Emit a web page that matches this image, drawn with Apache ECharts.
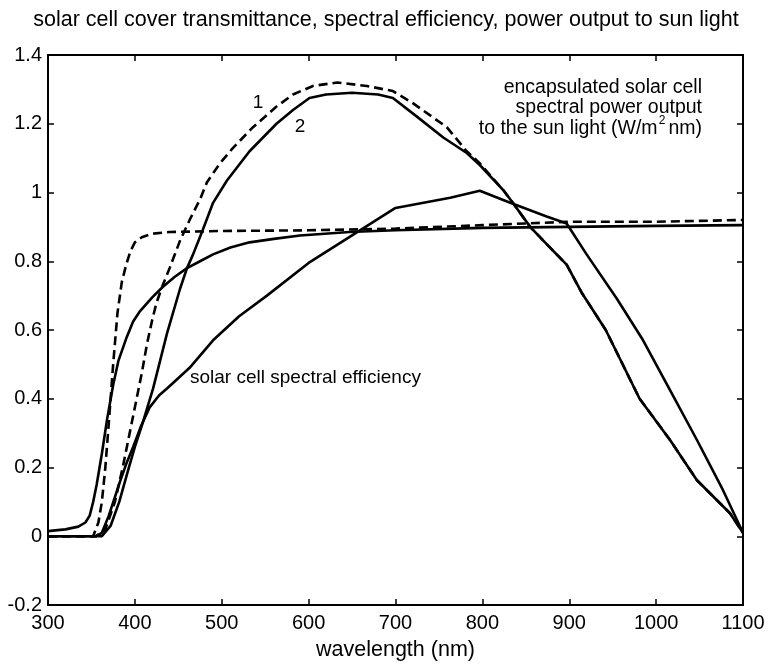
<!DOCTYPE html>
<html>
<head>
<meta charset="utf-8">
<script src="https://cdn.jsdelivr.net/npm/echarts@6/dist/echarts.min.js"></script>
<style>
html,body{margin:0;padding:0;background:#fff;}
#chart{width:772px;height:667px;}
</style>
</head>
<body>
<div id="chart"></div>
<script>
// ---- data (wavelength in nm, values) ----
var xTicks = [300, 400, 500, 600, 700, 800, 900, 1000, 1100];
var yTicks = [-0.2, 0, 0.2, 0.4, 0.6, 0.8, 1, 1.2, 1.4];

// cover transmittance, dashed (cover 1)
var wlTrans1 = [300, 352, 358, 362, 366, 370, 375, 380, 385, 390, 395, 400, 408, 420, 440, 500, 600, 700, 800, 900, 1000, 1100];
var trans1   = [0, 0, 0.04, 0.1, 0.2, 0.33, 0.5, 0.65, 0.74, 0.79, 0.83, 0.855, 0.87, 0.88, 0.885, 0.888, 0.89, 0.895, 0.905, 0.915, 0.915, 0.92];

// cover transmittance, solid (cover 2)
var wlTrans2 = [300, 320, 335, 343, 348, 352, 356, 362, 368, 375, 381, 390, 398, 406, 420, 432, 446, 460, 475, 490, 510, 532, 560, 590, 647, 700, 800, 900, 1000, 1100];
var trans2   = [0.015, 0.02, 0.028, 0.04, 0.06, 0.1, 0.15, 0.24, 0.34, 0.44, 0.51, 0.575, 0.625, 0.655, 0.695, 0.725, 0.755, 0.78, 0.8, 0.82, 0.84, 0.855, 0.865, 0.875, 0.885, 0.89, 0.897, 0.9, 0.903, 0.905];

// solar cell spectral efficiency
var wlEff = [300, 355, 362, 370, 383, 390, 398, 407, 417, 428, 437, 463, 490, 520, 552, 600, 650, 700, 763, 797, 832, 874, 897, 920, 955, 985, 1016, 1047, 1077, 1100];
var eff   = [0, 0, 0.01, 0.06, 0.16, 0.21, 0.26, 0.32, 0.375, 0.41, 0.43, 0.49, 0.57, 0.64, 0.70, 0.795, 0.875, 0.955, 0.985, 1.005, 0.97, 0.93, 0.91, 0.82, 0.69, 0.57, 0.425, 0.28, 0.134, 0.01];

// encapsulated cell power output, curve 1 (dashed)
var wlPow1 = [300, 355, 366, 377, 386, 394, 400, 408, 414, 420, 425, 432, 440, 452, 463, 475, 483, 498, 513, 536, 563, 582, 605, 633, 667, 697, 720, 759, 782, 797, 824, 835, 855, 874, 897, 914, 942, 981, 1016, 1047, 1085, 1100];
var pow1   = [0, 0, 0.02, 0.1, 0.2, 0.3, 0.375, 0.475, 0.56, 0.63, 0.68, 0.73, 0.78, 0.86, 0.92, 0.98, 1.03, 1.085, 1.13, 1.19, 1.25, 1.285, 1.31, 1.32, 1.31, 1.295, 1.26, 1.19, 1.12, 1.085, 1.007, 0.97, 0.9, 0.85, 0.79, 0.71, 0.6, 0.4, 0.28, 0.163, 0.067, 0.01];

// encapsulated cell power output, curve 2 (solid)
var wlPow2 = [300, 362, 372, 382, 392, 400, 409, 421, 437, 452, 460, 467, 478, 490, 506, 532, 563, 582, 601, 620, 650, 680, 697, 725, 755, 782, 797, 824, 835, 855, 874, 897, 914, 942, 981, 1016, 1047, 1085, 1100];
var pow2   = [0, 0, 0.03, 0.1, 0.19, 0.26, 0.33, 0.43, 0.59, 0.72, 0.78, 0.82, 0.89, 0.97, 1.035, 1.12, 1.2, 1.24, 1.275, 1.285, 1.29, 1.285, 1.275, 1.22, 1.16, 1.115, 1.08, 1.007, 0.97, 0.9, 0.85, 0.79, 0.71, 0.6, 0.4, 0.28, 0.163, 0.067, 0.01];

var titleText = 'solar cell cover transmittance, spectral efficiency, power output to sun light';
var xName = 'wavelength (nm)';

function pairs(xs, ys){ return xs.map(function(x,i){ return [x, ys[i]]; }); }

var FONT = '"Liberation Sans", Arial, sans-serif';
var chart = echarts.init(document.getElementById('chart'), null, {renderer:'canvas'});

function axisCommon(extra){
  var base = {
    type:'value',
    axisLine:{show:true, onZero:false, lineStyle:{color:'#000', width:2}},
    axisTick:{show:true, inside:true, length:6, lineStyle:{color:'#000', width:1.5}},
    splitLine:{show:false}
  };
  for (var k in extra) base[k] = extra[k];
  return base;
}

function fmtY(v){ return String(parseFloat(v.toFixed(1))); }
function fmtX(v){ return String(Math.round(v)); }

var lineW = 2.6;
function series(name, xs, ys, dashed){
  return {
    name:name, type:'line', data:pairs(xs, ys),
    showSymbol:false, symbol:'none', smooth:false, silent:true,
    lineStyle:{color:'#000', width:lineW, type: dashed ? [9,5] : 'solid'},
    z: dashed ? 3 : 2
  };
}

chart.setOption({
  animation:false,
  backgroundColor:'#fff',
  grid:{left:48, right:29, top:55, bottom:62, containLabel:false},
  xAxis:[
    axisCommon({position:'bottom', min:xTicks[0], max:xTicks[xTicks.length-1], interval:100,
      axisLabel:{color:'#000', fontSize:20, fontFamily:FONT, margin:8, formatter:fmtX},
      name:xName, nameLocation:'middle', nameGap:34,
      nameTextStyle:{color:'#000', fontSize:21.5, fontFamily:FONT}}),
    axisCommon({position:'top', min:xTicks[0], max:xTicks[xTicks.length-1], interval:100,
      axisLabel:{show:false}})
  ],
  yAxis:[
    axisCommon({position:'left', min:yTicks[0], max:yTicks[yTicks.length-1], interval:0.2,
      axisLabel:{color:'#000', fontSize:20, fontFamily:FONT, margin:6, formatter:fmtY}}),
    axisCommon({position:'right', min:yTicks[0], max:yTicks[yTicks.length-1], interval:0.2,
      axisLabel:{show:false}})
  ],
  series:[
    series('trans1', wlTrans1, trans1, true),
    series('trans2', wlTrans2, trans2, false),
    series('eff', wlEff, eff, false),
    series('pow1', wlPow1, pow1, true),
    series('pow2', wlPow2, pow2, false)
  ],
  graphic:[
    {type:'text', left:'center', top:9, style:{text:titleText, x:0, fill:'#000', font:'21.5px ' + FONT}},
    {type:'text', x:258, y:103, style:{text:'1', fill:'#000', font:'19px ' + FONT, textAlign:'center', textVerticalAlign:'middle'}},
    {type:'text', x:300, y:127, style:{text:'2', fill:'#000', font:'19px ' + FONT, textAlign:'center', textVerticalAlign:'middle'}},
    {type:'text', x:702, y:88, style:{text:'encapsulated solar cell', fill:'#000', font:'19.5px ' + FONT, textAlign:'right', textVerticalAlign:'middle'}},
    {type:'text', x:702, y:108, style:{text:'spectral power output', fill:'#000', font:'19.5px ' + FONT, textAlign:'right', textVerticalAlign:'middle'}},
    {type:'text', x:702, y:129, style:{text:'to the sun light (W/m  nm)', fill:'#000', font:'19.5px ' + FONT, textAlign:'right', textVerticalAlign:'middle'}},
    {type:'text', x:662, y:121, style:{text:'2', fill:'#000', font:'12px ' + FONT, textAlign:'center', textVerticalAlign:'middle'}},
    {type:'text', x:190, y:378, style:{text:'solar cell spectral efficiency', fill:'#000', font:'19px ' + FONT, textAlign:'left', textVerticalAlign:'middle'}}
  ]
});
</script>
</body>
</html>
